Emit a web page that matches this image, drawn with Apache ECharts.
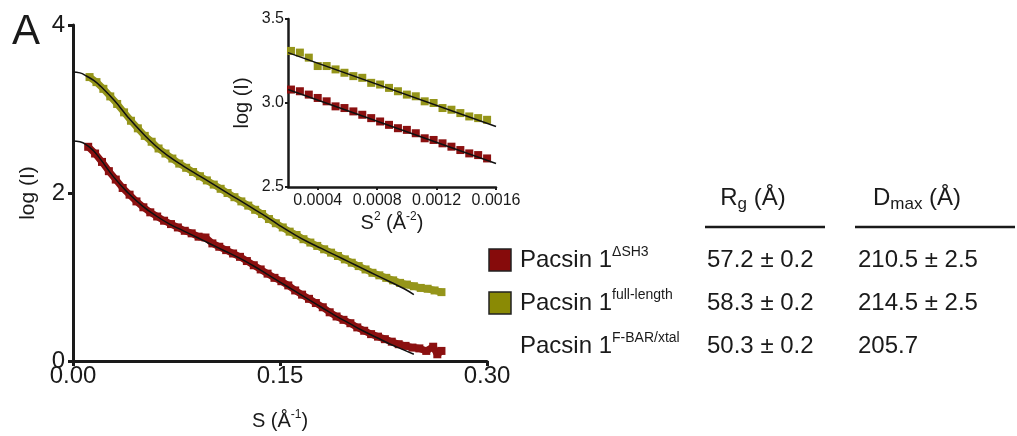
<!DOCTYPE html>
<html>
<head>
<meta charset="utf-8">
<script src="https://cdn.jsdelivr.net/npm/echarts@6/dist/echarts.min.js"></script>
<style>
  html, body { margin: 0; padding: 0; background: #fff; }
  #chart { width: 1017px; height: 436px; }
</style>
</head>
<body>
<div id="chart"></div>
<script>
// main plot: log(I) vs S
const sFull = [0.012,0.017,0.022,0.027,0.032,0.037,0.042,0.047,0.052,0.057,0.062,0.067,0.072,0.077,0.082,0.087,0.092,0.097,0.102,0.107,0.112,0.117,0.122,0.127,0.132,0.137,0.142,0.147,0.152,0.157,0.162,0.167,0.172,0.177,0.182,0.187,0.192,0.197,0.202,0.207,0.212,0.217,0.222,0.227,0.232,0.237,0.242,0.247,0.252,0.257,0.262,0.267];
const logIFull = [3.38,3.32,3.24,3.15,3.06,2.96,2.86,2.77,2.68,2.61,2.53,2.47,2.41,2.35,2.30,2.25,2.20,2.15,2.10,2.05,2.00,1.95,1.90,1.85,1.80,1.75,1.69,1.64,1.59,1.54,1.50,1.45,1.41,1.37,1.33,1.29,1.25,1.21,1.17,1.13,1.09,1.05,1.02,0.99,0.96,0.93,0.91,0.89,0.87,0.86,0.84,0.82];
const sDelta = [0.011,0.016,0.021,0.026,0.031,0.036,0.041,0.046,0.051,0.056,0.061,0.066,0.071,0.076,0.081,0.086,0.091,0.096,0.101,0.106,0.111,0.116,0.121,0.126,0.131,0.136,0.141,0.146,0.151,0.156,0.161,0.166,0.171,0.176,0.181,0.186,0.191,0.196,0.201,0.206,0.211,0.216,0.221,0.226,0.231,0.236,0.241,0.246,0.251,0.256,0.261,0.264,0.267];
const logIDelta = [2.55,2.47,2.37,2.26,2.16,2.06,1.98,1.90,1.83,1.77,1.72,1.67,1.63,1.59,1.55,1.52,1.48,1.47,1.40,1.36,1.32,1.28,1.24,1.19,1.14,1.09,1.04,0.99,0.95,0.90,0.84,0.79,0.74,0.69,0.64,0.58,0.53,0.49,0.45,0.40,0.36,0.32,0.29,0.26,0.23,0.20,0.18,0.16,0.15,0.12,0.17,0.08,0.12];
// fitted curves
const fitFullS = [0,0.005,0.01,0.015,0.02,0.03,0.04,0.05,0.06,0.07,0.08,0.09,0.10,0.11,0.12,0.13,0.14,0.15,0.16,0.17,0.18,0.19,0.20,0.21,0.22,0.23,0.24,0.247];
const fitFullLogI = [3.44,3.43,3.39,3.34,3.27,3.10,2.90,2.72,2.56,2.43,2.32,2.22,2.12,2.02,1.92,1.82,1.72,1.61,1.51,1.42,1.34,1.26,1.18,1.10,1.02,0.94,0.86,0.79];
const fitDeltaS = [0,0.005,0.01,0.015,0.02,0.03,0.04,0.05,0.06,0.07,0.08,0.09,0.10,0.11,0.12,0.13,0.14,0.15,0.16,0.17,0.18,0.19,0.20,0.21,0.22,0.23,0.24,0.247];
const fitDeltaLogI = [2.62,2.61,2.57,2.50,2.40,2.18,2.00,1.85,1.73,1.63,1.55,1.47,1.39,1.31,1.23,1.14,1.04,0.94,0.84,0.74,0.64,0.54,0.45,0.36,0.28,0.20,0.13,0.08];

// inset: Guinier plot log(I) vs S^2
const s2Guinier = [0.00022,0.00028,0.00034,0.00040,0.00046,0.00052,0.00058,0.00064,0.00070,0.00076,0.00082,0.00088,0.00094,0.00100,0.00106,0.00112,0.00118,0.00124,0.00130,0.00136,0.00142,0.00148,0.00154];
const guinierFull = [3.31,3.30,3.27,3.22,3.22,3.20,3.18,3.16,3.15,3.12,3.11,3.09,3.07,3.05,3.04,3.01,3.00,2.97,2.96,2.94,2.92,2.91,2.90];
const guinierDelta = [3.08,3.07,3.05,3.03,3.01,2.98,2.97,2.95,2.93,2.91,2.89,2.87,2.85,2.84,2.82,2.79,2.78,2.76,2.74,2.72,2.70,2.69,2.67];
const guinierFitS2 = [0.0002,0.0016];
const guinierFitFull = [3.30,2.86];
const guinierFitDelta = [3.08,2.64];
const insetTicks = [0.0004,0.0008,0.0012,0.0016];

// table
const constructs = ['ΔSH3','full-length','F-BAR/xtal'];
const rgValues = ['57.2 ± 0.2','58.3 ± 0.2','50.3 ± 0.2'];
const dmaxValues = ['210.5 ± 2.5','214.5 ± 2.5','205.7'];
const swatchColors = ['#860b0b','#8a8a05',null];

const RED = '#8b1010';
const OLIVE = '#95951a';
const INK = '#1a1a1a';
const FONT = 'Liberation Sans, Arial, sans-serif';

const zip = (xs, ys) => xs.map((x, i) => [x, ys[i]]);

let chart = echarts.init(document.getElementById('chart'));

const rowY = [260, 303, 346];
let graphic = [
  { type: 'text', x: 12, y: 32, style: { text: 'A', font: '42px ' + FONT, fill: INK, verticalAlign: 'middle' } },
  { type: 'text', x: 753, y: 198, style: { text: '{m|R}{s|g}{m| (Å)}', align: 'center', verticalAlign: 'middle',
      rich: { m: { fontSize: 24, fontFamily: FONT, fill: INK, lineHeight: 30 }, s: { fontSize: 17, fontFamily: FONT, fill: INK, lineHeight: 16, verticalAlign: 'bottom' } } } },
  { type: 'text', x: 917, y: 198, style: { text: '{m|D}{s|max}{m| (Å)}', align: 'center', verticalAlign: 'middle',
      rich: { m: { fontSize: 24, fontFamily: FONT, fill: INK, lineHeight: 30 }, s: { fontSize: 17, fontFamily: FONT, fill: INK, lineHeight: 16, verticalAlign: 'bottom' } } } },
  { type: 'line', shape: { x1: 705, y1: 227, x2: 825, y2: 227 }, style: { stroke: INK, lineWidth: 2.5 } },
  { type: 'line', shape: { x1: 855, y1: 227, x2: 1015, y2: 227 }, style: { stroke: INK, lineWidth: 2.5 } }
];
constructs.forEach((c, i) => {
  if (swatchColors[i]) {
    graphic.push({ type: 'rect', shape: { x: 489, y: rowY[i] - 11, width: 22, height: 22 }, style: { fill: swatchColors[i], stroke: '#222', lineWidth: 1.5 } });
  }
  graphic.push({ type: 'text', x: 520, y: rowY[i], style: { text: '{m|Pacsin 1}{p|' + c + '}', verticalAlign: 'middle',
    rich: { m: { fontSize: 24, fontFamily: FONT, fill: INK, lineHeight: 30 }, p: { fontSize: 14, fontFamily: FONT, fill: INK, lineHeight: 16, verticalAlign: 'top' } } } });
  graphic.push({ type: 'text', x: 707, y: rowY[i], style: { text: rgValues[i], font: '24px ' + FONT, fill: INK, verticalAlign: 'middle' } });
  graphic.push({ type: 'text', x: 858, y: rowY[i], style: { text: dmaxValues[i], font: '24px ' + FONT, fill: INK, verticalAlign: 'middle' } });
});

const axisLine = w => ({ show: true, onZero: false, lineStyle: { color: INK, width: w } });
const nameRich = size => ({
  fontSize: size, fontFamily: FONT, color: INK,
  rich: { a: { fontSize: size, fontFamily: FONT, color: INK, lineHeight: 24 }, s: { fontSize: 12, fontFamily: FONT, color: INK, lineHeight: 12, verticalAlign: 'top' } }
});

chart.setOption({
  animation: false,
  backgroundColor: '#fff',
  textStyle: { fontFamily: FONT },
  grid: [
    { left: 73, right: 530, top: 25, bottom: 75 },
    { left: 288, right: 521, top: 19, bottom: 249 }
  ],
  xAxis: [
    {
      gridIndex: 0, type: 'value', min: 0, max: 0.3, interval: 0.15,
      axisLine: axisLine(3), axisTick: { show: true, length: 5, lineStyle: { color: INK, width: 3 } },
      axisLabel: { color: INK, fontSize: 24, margin: 3, formatter: v => v.toFixed(2) },
      splitLine: { show: false },
      name: '{a|S (Å}{s|-1}{a|)}', nameLocation: 'middle', nameGap: 48, nameTextStyle: nameRich(20)
    },
    {
      gridIndex: 1, type: 'value', min: 0.0002, max: 0.0016,
      axisLine: axisLine(2.5),
      axisTick: { show: true, length: 3, customValues: insetTicks, lineStyle: { color: INK, width: 2 } },
      axisLabel: { color: INK, fontSize: 16, margin: 6, customValues: insetTicks, formatter: v => v.toFixed(4) },
      splitLine: { show: false },
      name: '{a|S}{s|2}{a| (Å}{s|-2}{a|)}', nameLocation: 'middle', nameGap: 24, nameTextStyle: nameRich(20)
    }
  ],
  yAxis: [
    {
      gridIndex: 0, type: 'value', min: 0, max: 4, interval: 2,
      axisLine: axisLine(3), axisTick: { show: true, length: 5, lineStyle: { color: INK, width: 3 } },
      axisLabel: { color: INK, fontSize: 24, margin: 8 },
      splitLine: { show: false },
      name: 'log (I)', nameLocation: 'middle', nameGap: 34, nameTextStyle: { fontSize: 21, color: INK, fontFamily: FONT }
    },
    {
      gridIndex: 1, type: 'value', min: 2.5, max: 3.5, interval: 0.5,
      axisLine: axisLine(2.5), axisTick: { show: true, length: 3, lineStyle: { color: INK, width: 2 } },
      axisLabel: { color: INK, fontSize: 16, margin: 4, formatter: v => v.toFixed(1) },
      splitLine: { show: false },
      name: 'log (I)', nameLocation: 'middle', nameGap: 36, nameTextStyle: { fontSize: 20, color: INK, fontFamily: FONT }
    }
  ],
  series: [
    { type: 'line', xAxisIndex: 0, yAxisIndex: 0, data: zip(sFull, logIFull), symbol: 'rect', symbolSize: 8, showAllSymbol: true,
      itemStyle: { color: OLIVE }, lineStyle: { color: OLIVE, width: 7 }, z: 2 },
    { type: 'line', xAxisIndex: 0, yAxisIndex: 0, data: zip(sDelta, logIDelta), symbol: 'rect', symbolSize: 8, showAllSymbol: true,
      itemStyle: { color: RED }, lineStyle: { color: RED, width: 7 }, z: 2 },
    { type: 'line', xAxisIndex: 0, yAxisIndex: 0, data: zip(fitFullS, fitFullLogI), symbol: 'none', smooth: true,
      lineStyle: { color: '#111', width: 1.5 }, z: 3 },
    { type: 'line', xAxisIndex: 0, yAxisIndex: 0, data: zip(fitDeltaS, fitDeltaLogI), symbol: 'none', smooth: true,
      lineStyle: { color: '#111', width: 1.5 }, z: 3 },
    { type: 'scatter', xAxisIndex: 1, yAxisIndex: 1, data: zip(s2Guinier, guinierFull), symbol: 'rect', symbolSize: 8,
      itemStyle: { color: OLIVE, opacity: 1 }, z: 2 },
    { type: 'scatter', xAxisIndex: 1, yAxisIndex: 1, data: zip(s2Guinier, guinierDelta), symbol: 'rect', symbolSize: 8,
      itemStyle: { color: RED, opacity: 1 }, z: 2 },
    { type: 'line', xAxisIndex: 1, yAxisIndex: 1, data: zip(guinierFitS2, guinierFitFull), symbol: 'none',
      lineStyle: { color: '#111', width: 1.5 }, z: 3 },
    { type: 'line', xAxisIndex: 1, yAxisIndex: 1, data: zip(guinierFitS2, guinierFitDelta), symbol: 'none',
      lineStyle: { color: '#111', width: 1.5 }, z: 3 }
  ],
  graphic: graphic
});
</script>
</body>
</html>
